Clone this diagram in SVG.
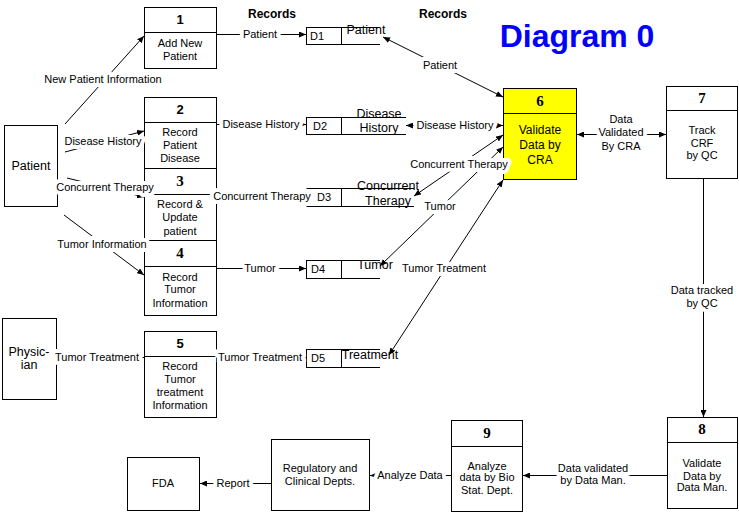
<svg xmlns="http://www.w3.org/2000/svg" width="739" height="513" viewBox="0 0 739 513">
<style>
.box{fill:#fff;stroke:#000;stroke-width:1}
.ln{fill:none;stroke:#000;stroke-width:1}
.t{font-family:"Liberation Sans",Arial,sans-serif;font-size:11px;fill:#000;text-anchor:middle}
.num{font-family:"Liberation Sans",Arial,sans-serif;font-size:13px;font-weight:bold;fill:#000;text-anchor:middle}
.nums{font-family:"Liberation Serif","Times New Roman",serif;font-size:15px;font-weight:bold;fill:#000;text-anchor:middle}
.big{font-family:"Liberation Sans",Arial,sans-serif;font-size:12px;fill:#000;text-anchor:middle}
.st{font-family:"Liberation Sans",Arial,sans-serif;font-size:12.5px;fill:#000;text-anchor:middle}
.lbl{font-family:"Liberation Sans",Arial,sans-serif;font-size:11px;fill:#000;text-anchor:middle;paint-order:stroke;stroke:#fff;stroke-width:8px;stroke-linejoin:round}
.cn{fill:none;stroke:#000;stroke-width:1}
.hd{font-family:"Liberation Sans",Arial,sans-serif;font-size:12px;font-weight:bold;fill:#000;text-anchor:middle}
</style>
<defs>
<marker id="ah" viewBox="0 0 7 6" refX="7" refY="3" markerWidth="7" markerHeight="6" markerUnits="userSpaceOnUse" orient="auto-start-reverse">
<path d="M0,0 L7,3 L0,6 z" fill="#000"/>
</marker>
</defs>
<rect width="739" height="513" fill="#fff"/>

<text x="272" y="18" class="hd">Records</text>
<text x="443" y="18" class="hd">Records</text>
<text x="577" y="47" font-family="Liberation Sans,Arial,sans-serif" font-size="32" font-weight="bold" fill="#0000ff" text-anchor="middle">Diagram 0</text>

<g id="patient">
<rect class="box" x="4.5" y="125.5" width="53" height="81"/>
<text x="31" y="170" class="st" font-size="13">Patient</text>
</g>
<g id="physician">
<rect class="box" x="2.5" y="318.5" width="54" height="81"/>
<text x="29" y="356" class="st" font-size="13">Physic-</text>
<text x="29" y="369" class="st" font-size="13">ian</text>
</g>

<g id="p1">
<rect class="box" x="144.5" y="7.5" width="72" height="61"/>
<line class="ln" x1="144.5" y1="32.5" x2="216.5" y2="32.5"/>
<text x="180" y="24" class="num">1</text>
<text x="180" y="47" class="t">Add New</text>
<text x="180" y="60" class="t">Patient</text>
</g>
<g id="p2">
<rect class="box" x="144.5" y="97.5" width="72" height="80"/>
<line class="ln" x1="144.5" y1="122.5" x2="216.5" y2="122.5"/>
<text x="180" y="114" class="num">2</text>
<text x="180" y="136" class="t">Record</text>
<text x="180" y="149" class="t">Patient</text>
<text x="180" y="162" class="t">Disease</text>
</g>
<g id="p3">
<rect class="box" x="144.5" y="168.5" width="72" height="80"/>
<line class="ln" x1="144.5" y1="194.5" x2="216.5" y2="194.5"/>
<text x="180" y="186" class="nums">3</text>
<text x="180" y="208" class="t">Record  &amp;</text>
<text x="180" y="221" class="t">Update</text>
<text x="180" y="235" class="t">patient</text>
</g>
<g id="p4">
<rect class="box" x="144.5" y="240.5" width="72" height="75"/>
<line class="ln" x1="144.5" y1="266.5" x2="216.5" y2="266.5"/>
<text x="180" y="258" class="nums">4</text>
<text x="180" y="281" class="t">Record</text>
<text x="180" y="293" class="t">Tumor</text>
<text x="180" y="307" class="t">Information</text>
</g>
<g id="p5">
<rect class="box" x="144.5" y="331.5" width="72" height="86"/>
<line class="ln" x1="144.5" y1="356.5" x2="216.5" y2="356.5"/>
<text x="180" y="348" class="num">5</text>
<text x="180" y="370" class="t">Record</text>
<text x="180" y="383" class="t">Tumor</text>
<text x="180" y="396" class="t">treatment</text>
<text x="180" y="409" class="t">Information</text>
</g>

<g id="d1">
<rect class="box" x="306.5" y="27.5" width="35" height="17"/>
<line class="ln" x1="341.5" y1="27.5" x2="380" y2="27.5"/>
<line class="ln" x1="341.5" y1="44.5" x2="380" y2="44.5"/>
<text x="317" y="40" class="t" text-anchor="middle">D1</text>
<text x="366" y="34" class="st">Patient</text>
</g>
<g id="d2">
<rect class="box" x="306.5" y="117.5" width="35" height="17"/>
<line class="ln" x1="341.5" y1="117.5" x2="406" y2="117.5"/>
<line class="ln" x1="341.5" y1="134.5" x2="406" y2="134.5"/>
<text x="320" y="130" class="t">D2</text>
<text x="379" y="118" class="st">Disease</text>
<text x="379" y="132" class="st">History</text>
</g>
<g id="d3">
<line class="ln" x1="306.5" y1="188.5" x2="414" y2="188.5"/>
<line class="ln" x1="306.5" y1="206.5" x2="414" y2="206.5"/>
<line class="ln" x1="341.5" y1="188.5" x2="341.5" y2="206.5"/>
<text x="324" y="201" class="t">D3</text>
<text x="388" y="190" class="st">Concurrent</text>
<text x="388" y="205" class="st">Therapy</text>
</g>
<g id="d4">
<rect class="box" x="306.5" y="260.5" width="35" height="18"/>
<line class="ln" x1="341.5" y1="260.5" x2="380" y2="260.5"/>
<line class="ln" x1="341.5" y1="278.5" x2="380" y2="278.5"/>
<text x="318" y="273" class="t">D4</text>
<text x="375" y="269" class="st">Tumor</text>
</g>
<g id="d5">
<rect class="box" x="306.5" y="349.5" width="35" height="18"/>
<line class="ln" x1="341.5" y1="349.5" x2="380" y2="349.5"/>
<line class="ln" x1="341.5" y1="367.5" x2="380" y2="367.5"/>
<text x="318" y="362" class="t">D5</text>
<text x="370" y="359" class="st">Treatment</text>
</g>

<g id="p6">
<rect x="503.5" y="88.5" width="73" height="91" fill="#ffff00" stroke="#000"/>
<line class="ln" x1="503.5" y1="113.5" x2="576.5" y2="113.5"/>
<text x="540" y="106" class="nums">6</text>
<text x="540" y="134" class="big">Validate</text>
<text x="540" y="149" class="big">Data by</text>
<text x="540" y="164" class="big">CRA</text>
</g>
<g id="p7">
<rect class="box" x="666.5" y="86.5" width="71" height="92"/>
<line class="ln" x1="666.5" y1="110.5" x2="737.5" y2="110.5"/>
<text x="702" y="103" class="nums">7</text>
<text x="702" y="134" class="t">Track</text>
<text x="702" y="147" class="t">CRF</text>
<text x="702" y="159" class="t">by QC</text>
</g>
<g id="p8">
<rect class="box" x="667.5" y="417.5" width="70" height="91"/>
<line class="ln" x1="667.5" y1="442.5" x2="737.5" y2="442.5"/>
<text x="702" y="434" class="nums">8</text>
<text x="702" y="467" class="t">Validate</text>
<text x="702" y="480" class="t">Data by</text>
<text x="702" y="491" class="t">Data Man.</text>
</g>
<g id="p9">
<rect class="box" x="451.5" y="420.5" width="71" height="91"/>
<line class="ln" x1="451.5" y1="446.5" x2="522.5" y2="446.5"/>
<text x="487" y="438" class="nums">9</text>
<text x="487" y="470" class="t">Analyze</text>
<text x="487" y="481" class="t">data by Bio</text>
<text x="487" y="494" class="t">Stat. Dept.</text>
</g>
<g id="regulatory">
<rect class="box" x="271.5" y="439.5" width="98" height="71"/>
<text x="320" y="472" class="t">Regulatory and</text>
<text x="320" y="485" class="t">Clinical Depts.</text>
</g>
<g id="fda">
<rect class="box" x="127.5" y="457.5" width="72" height="53"/>
<text x="163" y="487" class="t">FDA</text>
</g>

<g id="connectors">
<path class="cn" d="M65,124 L144,36" marker-end="url(#ah)"/>
<path class="cn" d="M65,152 L144,131" marker-end="url(#ah)"/>
<path class="cn" d="M67,178 L144,197" marker-end="url(#ah)"/>
<path class="cn" d="M64,215 L144,275" marker-end="url(#ah)"/>
<path class="cn" d="M217,34.5 L306,34.5" marker-end="url(#ah)"/>
<path class="cn" d="M217,124.5 L306,124.5" marker-end="url(#ah)"/>
<path class="cn" d="M217,196.5 L306,196.5" marker-end="url(#ah)"/>
<path class="cn" d="M217,268.5 L306,268.5" marker-end="url(#ah)"/>
<path class="cn" d="M217,357.5 L306,357.5" marker-end="url(#ah)"/>
<path class="cn" d="M57,357.5 L144,357.5" marker-end="url(#ah)"/>
<path class="cn" d="M383,37 L503,97" marker-start="url(#ah)" marker-end="url(#ah)"/>
<path class="cn" d="M406,125.5 L503,125.5" marker-start="url(#ah)" marker-end="url(#ah)"/>
<path class="cn" d="M503,135 L414,196" marker-start="url(#ah)" marker-end="url(#ah)"/>
<path class="cn" d="M380,266 L503,147" marker-start="url(#ah)" marker-end="url(#ah)"/>
<path class="cn" d="M389,355 L503,180" marker-start="url(#ah)" marker-end="url(#ah)"/>
<path class="cn" d="M577,134.5 L666,134.5" marker-start="url(#ah)" marker-end="url(#ah)"/>
<path class="cn" d="M703.5,179 L703.5,417" marker-end="url(#ah)"/>
<path class="cn" d="M667,475.5 L523,475.5" marker-end="url(#ah)"/>
<path class="cn" d="M451,475.5 L370,475.5" marker-end="url(#ah)"/>
<path class="cn" d="M271,483.5 L200,483.5" marker-end="url(#ah)"/>

<text x="103" y="83" class="lbl">New Patient Information</text>
<text x="103" y="145" class="lbl">Disease History</text>
<text x="105" y="191" class="lbl">Concurrent Therapy</text>
<text x="102" y="248" class="lbl">Tumor Information</text>
<text x="260" y="38" class="lbl">Patient</text>
<text x="261" y="128" class="lbl">Disease History</text>
<text x="262" y="200" class="lbl">Concurrent Therapy</text>
<text x="260" y="272" class="lbl">Tumor</text>
<text x="260" y="361" class="lbl">Tumor Treatment</text>
<text x="97" y="361" class="lbl">Tumor Treatment</text>
<text x="440" y="69" class="lbl">Patient</text>
<text x="455" y="129" class="lbl">Disease History</text>
<text x="459" y="168" class="lbl">Concurrent Therapy</text>
<text x="440" y="210" class="lbl">Tumor</text>
<text x="444" y="272" class="lbl">Tumor Treatment</text>
<text x="621" y="123" class="lbl">Data</text>
<text x="621" y="136" class="lbl">Validated</text>
<text x="621" y="150" class="lbl">By CRA</text>
<text x="702" y="294" class="lbl">Data tracked</text>
<text x="702" y="307" class="lbl">by QC</text>
<text x="593" y="472" class="lbl">Data validated</text>
<text x="593" y="484" class="lbl">by Data  Man.</text>
<text x="410" y="479" class="lbl">Analyze Data</text>
<text x="233" y="487" class="lbl">Report</text>
</g>
</svg>
